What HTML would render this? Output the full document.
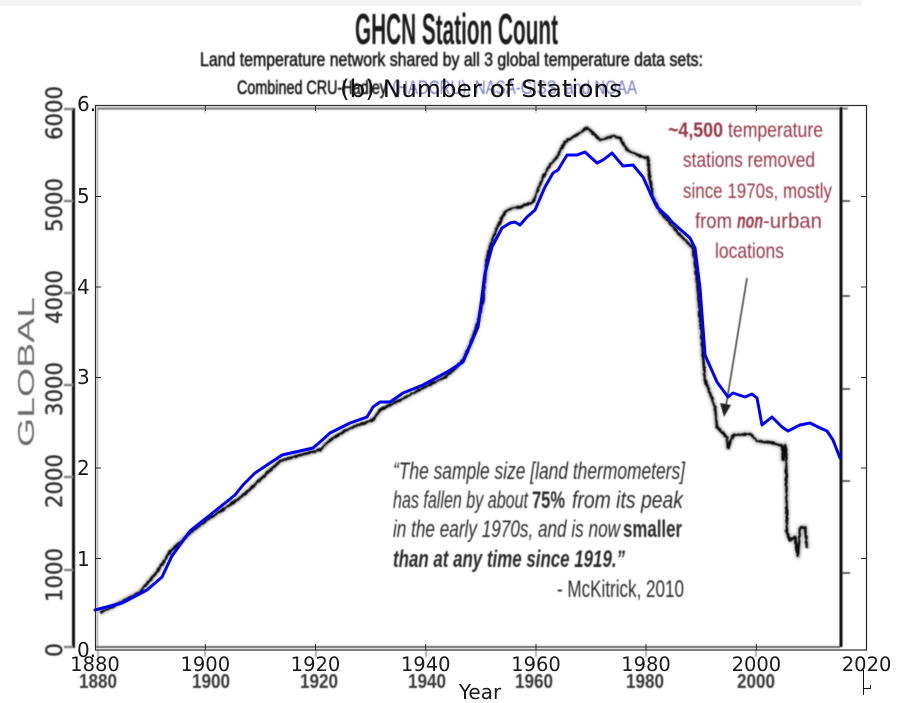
<!DOCTYPE html>
<html><head><meta charset="utf-8">
<style>
html,body{margin:0;padding:0;background:#fff;}
svg{display:block;}
.mpl{font-family:"DejaVu Sans",sans-serif;}
.img{font-family:"Liberation Sans Narrow","Liberation Sans",sans-serif;}
</style></head>
<body>
<svg width="898" height="703" viewBox="0 0 898 703" xmlns="http://www.w3.org/2000/svg">
<defs>
  <filter id="rough" x="-5%" y="-5%" width="110%" height="110%">
    <feTurbulence type="fractalNoise" baseFrequency="0.3" numOctaves="2" seed="3" result="t"/>
    <feDisplacementMap in="SourceGraphic" in2="t" scale="2.5" xChannelSelector="R" yChannelSelector="G"/>
    <feGaussianBlur stdDeviation="0.5"/>
  </filter>
  <filter id="halo" x="-5%" y="-5%" width="110%" height="110%">
    <feGaussianBlur stdDeviation="1.4"/>
  </filter>
  <filter id="soft" x="-5%" y="-20%" width="110%" height="140%">
    <feGaussianBlur stdDeviation="0.45"/>
  </filter>
</defs>

<rect x="0" y="0" width="898" height="703" fill="#fff"/>
<rect x="0" y="0" width="862" height="6" fill="#f4f4f4"/>

<!-- ===== background raster-image elements ===== -->
<g filter="url(#soft)">
  <text class="img" x="355" y="44" font-size="44" font-weight="bold" fill="#1a1a1a" textLength="203" lengthAdjust="spacingAndGlyphs">GHCN Station Count</text>
  <text class="img" x="200" y="66" font-size="19" fill="#1e1e1e" stroke="#1e1e1e" stroke-width="0.6" textLength="503" lengthAdjust="spacingAndGlyphs">Land temperature network shared by all 3 global temperature data sets:</text>
  <text class="img" x="237" y="94" font-size="19" fill="#1a1a1a" stroke="#1a1a1a" stroke-width="0.6" textLength="150" lengthAdjust="spacingAndGlyphs">Combined CRU-Hadley</text>
  <text class="img" x="392" y="94" font-size="19" fill="#7676c2" textLength="245" lengthAdjust="spacingAndGlyphs">(HADCRU), NASA-GISS, and NOAA</text>

  <!-- GLOBAL label -->
  <text class="img" transform="translate(34,372) rotate(-90)" text-anchor="middle" font-family="DejaVu Sans" font-size="23" fill="#6b6b6b" textLength="150" lengthAdjust="spacingAndGlyphs">GLOBAL</text>
  <!-- background y labels -->
  <g font-family="DejaVu Sans" font-size="22" fill="#333" stroke="#333" stroke-width="0.4" text-anchor="middle">
    <text transform="translate(62,113) rotate(-90)" textLength="54" lengthAdjust="spacingAndGlyphs">6000</text>
    <text transform="translate(62,205) rotate(-90)" textLength="54" lengthAdjust="spacingAndGlyphs">5000</text>
    <text transform="translate(62,297) rotate(-90)" textLength="54" lengthAdjust="spacingAndGlyphs">4000</text>
    <text transform="translate(62,389) rotate(-90)" textLength="54" lengthAdjust="spacingAndGlyphs">3000</text>
    <text transform="translate(62,481) rotate(-90)" textLength="54" lengthAdjust="spacingAndGlyphs">2000</text>
    <text transform="translate(62,575) rotate(-90)" textLength="54" lengthAdjust="spacingAndGlyphs">1000</text>
    <text transform="translate(62,650) rotate(-90)">0</text>
  </g>
  <!-- background x labels -->
  <g class="img" font-size="20" font-weight="bold" fill="#3a3a3a" text-anchor="middle">
    <text x="98" y="688" textLength="38" lengthAdjust="spacingAndGlyphs">1880</text>
    <text x="211" y="688" textLength="38" lengthAdjust="spacingAndGlyphs">1900</text>
    <text x="319" y="688" textLength="38" lengthAdjust="spacingAndGlyphs">1920</text>
    <text x="427" y="688" textLength="38" lengthAdjust="spacingAndGlyphs">1940</text>
    <text x="534" y="688" textLength="38" lengthAdjust="spacingAndGlyphs">1960</text>
    <text x="645" y="688" textLength="38" lengthAdjust="spacingAndGlyphs">1980</text>
    <text x="756" y="688" textLength="38" lengthAdjust="spacingAndGlyphs">2000</text>
  </g>

  <!-- background frame -->
  <line x1="73.5" y1="108" x2="73.5" y2="648" stroke="#111" stroke-width="3"/>
  <g stroke="#888" stroke-width="2.5">
    <line x1="64" y1="109" x2="73" y2="109"/>
    <line x1="64" y1="201" x2="73" y2="201"/>
    <line x1="64" y1="293" x2="73" y2="293"/>
    <line x1="64" y1="385" x2="73" y2="385"/>
    <line x1="64" y1="477" x2="73" y2="477"/>
    <line x1="64" y1="570" x2="73" y2="570"/>
    <line x1="64" y1="647" x2="73" y2="647"/>
  </g>
  <line x1="97" y1="108.5" x2="848" y2="108.5" stroke="#888" stroke-width="2.5"/>
  <line x1="97.5" y1="108" x2="97.5" y2="647" stroke="#999" stroke-width="1.2"/>
  <line x1="96" y1="647" x2="840" y2="647" stroke="#666" stroke-width="2"/>
  <line x1="841" y1="107" x2="841" y2="647" stroke="#111" stroke-width="3"/>
  <g stroke="#333" stroke-width="1.5">
    <line x1="842" y1="201" x2="850" y2="201"/>
    <line x1="842" y1="296" x2="850" y2="296"/>
    <line x1="842" y1="389" x2="850" y2="389"/>
    <line x1="842" y1="481" x2="850" y2="481"/>
    <line x1="842" y1="573" x2="850" y2="573"/>
  </g>
  <g stroke="#999" stroke-width="1.5">
    <line x1="98" y1="650" x2="98" y2="657"/>
    <line x1="205" y1="650" x2="205" y2="657"/>
    <line x1="316" y1="650" x2="316" y2="657"/>
    <line x1="426" y1="650" x2="426" y2="657"/>
    <line x1="536" y1="650" x2="536" y2="657"/>
    <line x1="646" y1="650" x2="646" y2="657"/>
    <line x1="756" y1="650" x2="756" y2="657"/>
  </g>
  <g stroke="#aaa" stroke-width="1.2">
    <line x1="205" y1="108" x2="205" y2="113"/>
    <line x1="316" y1="108" x2="316" y2="113"/>
    <line x1="426" y1="108" x2="426" y2="113"/>
    <line x1="536" y1="108" x2="536" y2="113"/>
    <line x1="646" y1="108" x2="646" y2="113"/>
    <line x1="756" y1="108" x2="756" y2="113"/>
  </g>

  <!-- red annotation -->
  <g class="img" font-size="21" fill="#963545">
    <text x="668" y="137" font-weight="bold" textLength="55" lengthAdjust="spacingAndGlyphs">~4,500</text>
    <text x="728" y="137" textLength="95" lengthAdjust="spacingAndGlyphs">temperature</text>
    <text x="683" y="167" textLength="132" lengthAdjust="spacingAndGlyphs">stations removed</text>
    <text x="683" y="198" textLength="149" lengthAdjust="spacingAndGlyphs">since 1970s, mostly</text>
    <text x="695" y="228" textLength="37" lengthAdjust="spacingAndGlyphs">from</text>
    <text x="737" y="228" font-weight="bold" font-style="italic" textLength="26" lengthAdjust="spacingAndGlyphs">non</text>
    <text x="763" y="228" textLength="59" lengthAdjust="spacingAndGlyphs">-urban</text>
    <text x="715" y="258" textLength="69" lengthAdjust="spacingAndGlyphs">locations</text>
  </g>
  <!-- arrow -->
  <line x1="747" y1="278" x2="726" y2="406" stroke="#444" stroke-width="1.6"/>
  <polygon points="724,417 720,403 731,405" fill="#222"/>

  <!-- quote -->
  <g class="img" font-size="24" fill="#2a2a2a">
    <text x="393" y="479" font-style="italic" textLength="292" lengthAdjust="spacingAndGlyphs">“The sample size [land thermometers]</text>
    <text x="393" y="508" font-style="italic" textLength="135" lengthAdjust="spacingAndGlyphs">has fallen by about</text>
    <text x="532" y="508" font-weight="bold" textLength="33" lengthAdjust="spacingAndGlyphs">75%</text>
    <text x="572" y="508" font-style="italic" textLength="111" lengthAdjust="spacingAndGlyphs">from its peak</text>
    <text x="393" y="537" font-style="italic" textLength="227" lengthAdjust="spacingAndGlyphs">in the early 1970s, and is now</text>
    <text x="623" y="537" font-weight="bold" textLength="59" lengthAdjust="spacingAndGlyphs">smaller</text>
    <text x="393" y="567" font-style="italic" font-weight="bold" textLength="232" lengthAdjust="spacingAndGlyphs">than at any time since 1919.”</text>
    <text x="557" y="597" textLength="127" lengthAdjust="spacingAndGlyphs">- McKitrick, 2010</text>
  </g>
</g>

<!-- black noisy data line (background image) -->
<polyline fill="none" stroke="#c4c4c4" stroke-width="6" stroke-linejoin="round" filter="url(#halo)"
 points="100,613 123,601 140,592 157,572 170,552 190,533 207,520 237,500 247,492 265,475 280,461 300,455 320,450 330,440 350,428 373,420 380,410 400,400 423,388 445,377 457,367 463,360 470,345 478,322 483,300 487,258 492,240 497,228 505,212 512,208 520,207 533,202 543,177 550,165 557,157 565,142 578,134 587,128 593,133 600,140 607,138 613,136 620,138 627,150 640,156 648,158 650,180 653,197 660,212 670,223 680,235 693,248 697,280 703,355 705,380 710,393 715,407 717,427 722,432 727,438 728,448 733,435 750,434 757,441 773,443 782,446 783,460 785,445 786,450 787,533 790,540 795,537 798,556 800,528 805,527 807,548"/>
<polyline fill="none" stroke="#111" stroke-width="2.6" stroke-linejoin="round" filter="url(#rough)"
 points="100,613 123,601 140,592 157,572 170,552 190,533 207,520 237,500 247,492 265,475 280,461 300,455 320,450 330,440 350,428 373,420 380,410 400,400 423,388 445,377 457,367 463,360 470,345 478,322 483,300 487,258 492,240 497,228 505,212 512,208 520,207 533,202 543,177 550,165 557,157 565,142 578,134 587,128 593,133 600,140 607,138 613,136 620,138 627,150 640,156 648,158 650,180 653,197 660,212 670,223 680,235 693,248 697,280 703,355 705,380 710,393 715,407 717,427 722,432 727,438 728,448 733,435 750,434 757,441 773,443 782,446 783,460 785,445 786,450 787,533 790,540 795,537 798,556 800,528 805,527 807,548"/>

<!-- ===== matplotlib overlay ===== -->
<polyline fill="none" stroke="#0000ff" stroke-width="3" stroke-linejoin="round" stroke-linecap="round"
 points="95,610 122,603 147,590 162,577 172,556 190,531 210,515 235,495 243,485 255,473 282,455 313,448 320,442 330,433 350,423 367,417 373,407 380,402 390,402 403,393 423,385 447,372 463,362 468,350 478,327 485,273 492,247 502,228 510,223 515,222 520,225 527,217 535,210 545,187 553,173 558,170 567,155 577,155 585,152 597,163 603,160 612,153 623,166 633,165 643,177 652,197 657,207 668,217 672,222 690,238 695,248 700,288 705,355 717,382 728,397 733,393 745,397 752,394 757,398 762,425 772,417 782,427 788,431 800,425 810,423 818,427 827,431 833,440 840,458"/>

<!-- axes spines -->
<rect x="95.5" y="105.5" width="771" height="544.5" fill="none" stroke="#2a2a2a" stroke-width="1.2"/>
<g stroke="#2a2a2a" stroke-width="1">
  <line x1="95" y1="196.5" x2="101" y2="196.5"/><line x1="861" y1="196.5" x2="867" y2="196.5"/>
  <line x1="95" y1="287" x2="101" y2="287"/><line x1="861" y1="287" x2="867" y2="287"/>
  <line x1="95" y1="377.5" x2="101" y2="377.5"/><line x1="861" y1="377.5" x2="867" y2="377.5"/>
  <line x1="95" y1="468" x2="101" y2="468"/><line x1="861" y1="468" x2="867" y2="468"/>
  <line x1="95" y1="558.5" x2="101" y2="558.5"/><line x1="861" y1="558.5" x2="867" y2="558.5"/>
  <line x1="205.3" y1="644" x2="205.3" y2="650"/><line x1="205.3" y1="105" x2="205.3" y2="111"/>
  <line x1="315.5" y1="644" x2="315.5" y2="650"/><line x1="315.5" y1="105" x2="315.5" y2="111"/>
  <line x1="425.7" y1="644" x2="425.7" y2="650"/><line x1="425.7" y1="105" x2="425.7" y2="111"/>
  <line x1="536" y1="644" x2="536" y2="650"/><line x1="536" y1="105" x2="536" y2="111"/>
  <line x1="646" y1="644" x2="646" y2="650"/><line x1="646" y1="105" x2="646" y2="111"/>
  <line x1="756.4" y1="644" x2="756.4" y2="650"/><line x1="756.4" y1="105" x2="756.4" y2="111"/>
</g>

<!-- y tick labels -->
<g class="mpl" font-size="20" fill="#1a1a1a">
  <text x="77" y="111">6.</text>
  <text x="77" y="203">5</text>
  <text x="77" y="294">4</text>
  <text x="77" y="384">3</text>
  <text x="77" y="475">2</text>
  <text x="77" y="566">1</text>
  <text x="77" y="657">0.</text>
</g>
<!-- x tick labels -->
<g class="mpl" font-size="19.5" fill="#1a1a1a" text-anchor="middle">
  <text x="95" y="671">1880</text>
  <text x="205.3" y="671">1900</text>
  <text x="315.5" y="671">1920</text>
  <text x="425.7" y="671">1940</text>
  <text x="536" y="671">1960</text>
  <text x="646" y="671">1980</text>
  <text x="756.4" y="671">2000</text>
  <text x="866.6" y="671">2020</text>
</g>
<text class="mpl" x="480" y="699" font-size="20" fill="#1a1a1a" text-anchor="middle">Year</text>
<text class="mpl" x="340" y="97" font-size="24" fill="#111" textLength="282" lengthAdjust="spacingAndGlyphs">(b) Number of Stations</text>

<!-- cursor glyph -->
<g stroke="#111" stroke-width="1">
  <line x1="863.5" y1="670" x2="863.5" y2="695"/>
  <line x1="863.5" y1="688.5" x2="871" y2="688.5"/>
  <line x1="870.5" y1="685" x2="870.5" y2="689"/>
</g>
</svg>
</body></html>
